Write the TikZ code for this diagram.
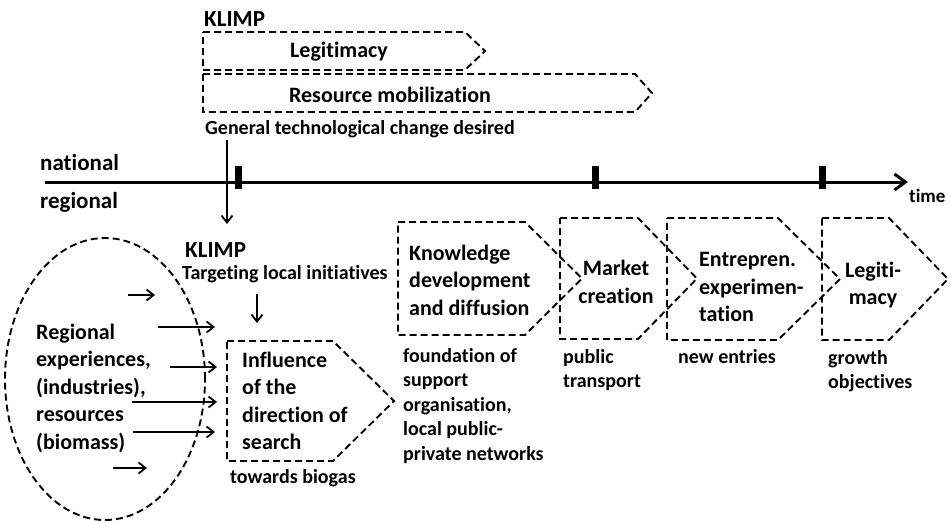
\documentclass[tikz,border=0pt]{standalone}
\usepackage{fontspec}
\setmainfont[Ligatures=NoCommon]{Carlito}
\usetikzlibrary{arrows.meta}
\begin{document}
\begin{tikzpicture}[x=1pt,y=-1pt,
  dsh/.style={draw=black,line width=1.9pt,dash pattern=on 7pt off 4pt,line join=miter},
  big/.style={inner sep=0pt,font=\bfseries\fontsize{22}{27.5}\selectfont},
  mid/.style={inner sep=0pt,font=\bfseries\fontsize{20}{24.5}\selectfont},
  lab/.style={inner sep=0pt,font=\bfseries\fontsize{23}{27}\selectfont},
  arr/.style={line width=1.8pt,-{Straight Barb[length=7pt,width=11pt,line width=1.8pt]}},
  tl/.style={line width=3pt,-{Straight Barb[length=11pt,width=16pt,line width=3pt]}},
  tick/.style={fill=black,draw=none}]
\useasboundingbox (0,0) rectangle (951,522);
% top chevrons
\draw[dsh] (203,32) -- (465,32) -- (485,51) -- (465,70) -- (203,70) -- cycle;
\draw[dsh] (203,74) -- (635,74) -- (652,93) -- (635,112) -- (203,112) -- cycle;
\node[lab,anchor=west] (klimpA) at (204,19) {KLIMP};
\node[big] (legA) at (339,52) {Legitimacy};
\node[big] (resA) at (390,95) {Resource mobilization};
\node[mid,anchor=west] (gen) at (205,129) {General technological change desired};
% timeline
\coordinate (tlS) at (45,182);
\coordinate (tlE) at (908,182);
\draw[tl] (tlS) -- (tlE);
\fill[tick] (234.5,166) rectangle (241.5,189);
\fill[tick] (591.5,166) rectangle (598.5,189);
\fill[tick] (818.5,166) rectangle (825.5,189);
\node[inner sep=0pt,font=\bfseries\fontsize{19}{23}\selectfont,anchor=west] (time) at (909,196) {time};
\node[lab,anchor=west] (nat) at (40,163) {national};
\node[lab,anchor=west] (reg) at (40,202) {regional};
\coordinate (natS) at (227,140);
\coordinate (natE) at (227,224);
\draw[arr] (natS) -- (natE);
% ellipse
\draw[dsh] (105,379) ellipse [x radius=100pt, y radius=141pt];
\node[big,anchor=west,align=left] (regexp) at (36,388) {Regional\\experiences,\\(industries),\\resources\\(biomass)};
% lower KLIMP
\node[lab,anchor=west] (klimpB) at (185,250) {KLIMP};
\node[mid,anchor=west] (target) at (182,274) {Targeting local initiatives};
\coordinate (tgS) at (257,294);
\coordinate (tgE) at (257,323);
\draw[arr] (tgS) -- (tgE);
% arrows from ellipse
\coordinate (a1s) at (128,295); \coordinate (a1e) at (155,295);
\coordinate (a2s) at (158,327); \coordinate (a2e) at (215,327);
\coordinate (a3s) at (170,367); \coordinate (a3e) at (217,367);
\coordinate (a4s) at (132,402); \coordinate (a4e) at (217,402);
\coordinate (a5s) at (133,432); \coordinate (a5e) at (215,432);
\coordinate (a6s) at (113,468); \coordinate (a6e) at (147,468);
\draw[arr] (a1s) -- (a1e);
\draw[arr] (a2s) -- (a2e);
\draw[arr] (a3s) -- (a3e);
\draw[arr] (a4s) -- (a4e);
\draw[arr,line width=2.6pt] (a5s) -- (a5e);
\draw[arr] (a6s) -- (a6e);
% influence chevron
\draw[dsh] (227,341) -- (333,341) -- (394,401) -- (333,461) -- (227,461) -- cycle;
\node[big,anchor=west,align=left] (infl) at (242,401) {Influence\\of the\\direction of\\search};
\node[mid,anchor=west] (biogas) at (230,478) {towards biogas};
% function chevrons
\draw[dsh] (398,222) -- (525,222) -- (582,278.5) -- (525,335) -- (398,335) -- cycle;
\draw[dsh] (560,218) -- (638,218) -- (697,278.5) -- (638,339) -- (560,339) -- cycle;
\draw[dsh] (667,218) -- (778,218) -- (840,279) -- (778,340) -- (667,340) -- cycle;
\draw[dsh] (822,218) -- (889,218) -- (948,279) -- (889,340) -- (822,340) -- cycle;
\node[big,anchor=west,align=left] (know) at (409,280) {Knowledge\\development\\and diffusion};
\node[big,align=center] (market) at (616,282) {Market\\creation};
\node[big,anchor=west,align=left] (entre) at (699,287) {Entrepren.\\experimen-\\tation};
\node[big,align=center] (legB) at (873,285) {Legiti-\\macy};
% lower labels
\node[mid,anchor=west,align=left] (found) at (403,406) {foundation of\\support\\organisation,\\local public-\\private networks};
\node[mid,anchor=west,align=left] (pub) at (563,370) {public\\transport};
\node[mid,anchor=west] (newent) at (678,357) {new entries};
\node[mid,anchor=west,align=left] (growth) at (828,371) {growth\\objectives};
\end{tikzpicture}
\end{document}
